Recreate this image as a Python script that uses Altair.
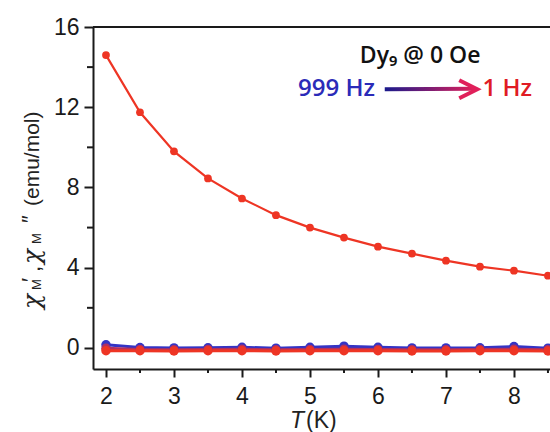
import altair as alt
import pandas as pd

temps = [2.0, 2.5, 3.0, 3.5, 4.0, 4.5, 5.0, 5.5, 6.0, 6.5, 7.0, 7.5, 8.0, 8.5]
chi_real_1hz = [14.6, 11.75, 9.8, 8.45, 7.45, 6.62, 6.0, 5.5, 5.05, 4.7, 4.35, 4.05, 3.85, 3.6]
chi_imag_999hz = [0.16, 0.02, 0.0, 0.01, 0.03, -0.01, 0.03, 0.09, 0.03, 0.0, 0.0, 0.01, 0.07, -0.01]
chi_imag_mid = [-0.02, -0.08, -0.09, -0.08, -0.07, -0.09, -0.08, -0.07, -0.08, -0.09, -0.09, -0.08, -0.07, -0.09]
chi_imag_1hz = [-0.14, -0.14, -0.15, -0.14, -0.14, -0.15, -0.14, -0.14, -0.14, -0.15, -0.15, -0.14, -0.14, -0.15]

series_names = ["999 Hz", "mid", "1 Hz"]
series_colors = ["#3434c4", "#b03060", "#ee3524"]

x_ticks = [2, 3, 4, 5, 6, 7, 8]
x_minor = [2.5, 3.5, 4.5, 5.5, 6.5, 7.5, 8.5]
y_ticks = [0, 4, 8, 12, 16]
y_minor = [2, 6, 10, 14]

W, H = 457, 342
L, T0 = 93, 27
xs = alt.Scale(domain=[1.809, 8.53], nice=False, zero=False)
ys = alt.Scale(domain=[-1.05, 16], nice=False, zero=False)

rows = []
for name, vals in zip(series_names, [chi_imag_999hz, chi_imag_mid, chi_imag_1hz]):
    for t, v in zip(temps, vals):
        rows.append({"T": t, "chi": v, "s": name})
low = pd.DataFrame(rows)
high = pd.DataFrame({"T": temps, "chi": chi_real_1hz})

font = "Liberation Sans"
ink = "#1a1a1a"

xaxis = alt.Axis(values=x_ticks, format="d", title=None, labelFontSize=23, labelFont=font,
                 labelColor=ink, tickSize=8, tickWidth=2, tickColor=ink, domainColor=ink,
                 domainWidth=2, labelPadding=8, grid=False)
yaxis = alt.Axis(values=y_ticks, format="d", title=None,
                 labelFontSize=23, labelFont=font, labelColor=ink,
                 tickSize=9, tickWidth=2, tickColor=ink, domainColor=ink, domainWidth=2,
                 labelPadding=5, grid=False)

color = alt.Color("s:N", scale=alt.Scale(domain=series_names, range=series_colors), legend=None)
base_low = alt.Chart(low)
low_lines = base_low.mark_line(strokeWidth=3).encode(
    x=alt.X("T:Q", scale=xs, axis=xaxis),
    y=alt.Y("chi:Q", scale=ys, axis=yaxis),
    color=color,
    order=alt.Order("T:Q"),
)
low_pts = base_low.mark_circle(size=90, opacity=1).encode(
    x=alt.X("T:Q", scale=xs), y=alt.Y("chi:Q", scale=ys), color=color)

hi_line = alt.Chart(high).mark_line(strokeWidth=2.2, color="#ee3524").encode(
    x=alt.X("T:Q", scale=xs), y=alt.Y("chi:Q", scale=ys))
hi_pts = alt.Chart(high).mark_circle(size=60, opacity=1, color="#ee3524").encode(
    x=alt.X("T:Q", scale=xs), y=alt.Y("chi:Q", scale=ys))

# minor ticks (drawn through the scales)
minor_x = alt.Chart(pd.DataFrame({"T": x_minor})).mark_rule(color=ink, strokeWidth=2).encode(
    x=alt.X("T:Q", scale=xs), y=alt.value(H), y2=alt.value(H + 4))
minor_y = alt.Chart(pd.DataFrame({"v": y_minor})).mark_rule(color=ink, strokeWidth=2).encode(
    y=alt.Y("v:Q", scale=ys), x=alt.value(0), x2=alt.value(-6))

top_border = alt.Chart(pd.DataFrame({"a": [0]})).mark_rule(color=ink, strokeWidth=2).encode(
    x=alt.value(0), x2=alt.value(W), y=alt.value(0))

one = pd.DataFrame({"a": [0]})

# x title
x_title_T = alt.Chart(one).mark_text(text="T", font=font, fontSize=23, fontStyle="italic",
                                     align="right", baseline="middle", color="#222").encode(
    x=alt.value(211), y=alt.value(H + 52))
x_title_K = alt.Chart(one).mark_text(text="(K)", font=font, fontSize=23, align="left",
                                     baseline="middle", color="#222").encode(
    x=alt.value(213), y=alt.value(H + 52))

# y title, built from pieces (text, font, size, italic, baseline x, start y) in page pixels
serif = "DejaVu Serif"
ytitle_parts = [
    ("χ", serif, 25, True, 40, 309),
    ("M", font, 13, False, 41, 290),
    ("′", font, 22, False, 37, 282),
    (",", font, 22, False, 40, 272),
    ("χ", serif, 25, True, 40, 264),
    ("M", font, 13, False, 41, 244),
    ("″", font, 22, False, 37, 223),
    ("(emu/mol)", font, 21, False, 39, 206),
]
ytitle_layers = []
for txt, fnt, sz, it, bx, sy in ytitle_parts:
    ytitle_layers.append(
        alt.Chart(one).mark_text(text=txt, font=fnt, fontSize=sz,
                                 fontStyle="italic" if it else "normal",
                                 angle=270, align="left", baseline="alphabetic",
                                 color="#222").encode(x=alt.value(bx - L), y=alt.value(sy - T0)))

# annotation
ann = alt.Chart(pd.DataFrame({"T": [6.62], "chi": [14.55], "txt": ["Dy₉ @ 0 Oe"]})).mark_text(
    font="Open Sans", fontSize=23, fontWeight=600, color="#111").encode(
    x=alt.X("T:Q", scale=xs), y=alt.Y("chi:Q", scale=ys), text="txt:N")

freq_hi = alt.Chart(pd.DataFrame({"T": [5.39], "chi": [12.9], "txt": ["999 Hz"]})).mark_text(
    font="Open Sans", fontSize=24, fontWeight=600, color="#2b2bb8").encode(
    x=alt.X("T:Q", scale=xs), y=alt.Y("chi:Q", scale=ys), text="txt:N")
freq_lo = alt.Chart(pd.DataFrame({"T": [7.90], "chi": [12.9], "txt": ["1 Hz"]})).mark_text(
    font="Open Sans", fontSize=24, fontWeight=600, color="#e01b24").encode(
    x=alt.X("T:Q", scale=xs), y=alt.Y("chi:Q", scale=ys), text="txt:N")

arrow = alt.Chart(pd.DataFrame({"T": [6.10, 7.42], "chi": [12.9, 12.92]})).mark_line(
    strokeWidth=4,
    color=alt.Gradient(gradient="linear",
                       stops=[alt.GradientStop(color="#1a1a8c", offset=0),
                              alt.GradientStop(color="#e0205a", offset=1)],
                       x1=0, x2=1, y1=0, y2=0)).encode(
    x=alt.X("T:Q", scale=xs), y=alt.Y("chi:Q", scale=ys))
head = alt.Chart(pd.DataFrame({"T": [7.46], "chi": [12.9]})).mark_point(
    shape="M-1,-0.5L0,0L-1,0.5", filled=False, strokeWidth=4, size=1300, color="#e0205a",
    opacity=1).encode(x=alt.X("T:Q", scale=xs), y=alt.Y("chi:Q", scale=ys))

chart = alt.layer(
    low_lines, low_pts, hi_line, hi_pts, minor_x, minor_y, top_border,
    x_title_T, x_title_K, *ytitle_layers, ann, freq_hi, freq_lo, arrow, head
).properties(
    width=W, height=H,
    autosize=alt.AutoSizeParams(type="none"),
    padding={"left": L, "top": T0, "right": 0, "bottom": 432 - T0 - H},
).configure_view(stroke=None).configure(background="white")

chart.save("out.html", embed_options={"renderer": "svg", "actions": False})
